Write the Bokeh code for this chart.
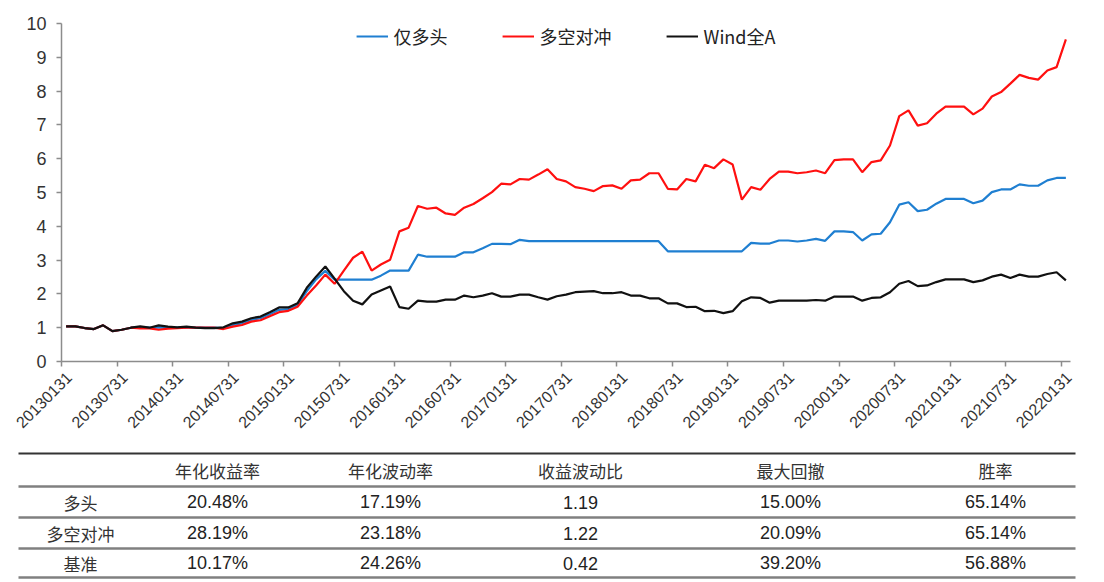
import numpy as np
import pandas as pd
from bokeh.plotting import figure
from bokeh.models import FixedTicker, Legend, LegendItem, Range1d
from bokeh.layouts import column
from bokeh.core.properties import value
from bokeh.embed import file_html
from bokeh.resources import INLINE

# ---------------- data ----------------
dates = pd.date_range("2013-01-31", periods=109, freq="ME").strftime("%Y%m%d").tolist()

long_only = [1.04, 1.04, 0.99, 0.96, 1.07, 0.90, 0.94, 1.00, 1.01, 1.00,
             1.01, 1.00, 1.00, 1.01, 1.00, 1.00, 1.00, 0.99, 1.08, 1.13,
             1.23, 1.28, 1.40, 1.53, 1.55, 1.67, 2.08, 2.43, 2.68, 2.42,
             2.42, 2.42, 2.42, 2.42, 2.54, 2.69, 2.69, 2.69, 3.16, 3.10,
             3.10, 3.10, 3.10, 3.23, 3.23, 3.35, 3.48, 3.48, 3.47, 3.60,
             3.56, 3.56, 3.56, 3.56, 3.56, 3.56, 3.56, 3.56, 3.56, 3.56,
             3.56, 3.56, 3.56, 3.56, 3.56, 3.26, 3.26, 3.26, 3.26, 3.26,
             3.26, 3.26, 3.26, 3.26, 3.51, 3.49, 3.49, 3.58, 3.58, 3.55,
             3.58, 3.63, 3.57, 3.85, 3.85, 3.83, 3.58, 3.76, 3.78, 4.12,
             4.64, 4.71, 4.45, 4.49, 4.67, 4.81, 4.81, 4.81, 4.68, 4.76,
             5.01, 5.09, 5.09, 5.24, 5.20, 5.20, 5.36, 5.43, 5.43]

long_short = [1.04, 1.04, 0.99, 0.96, 1.07, 0.90, 0.94, 1.00, 0.98, 0.98,
              0.94, 0.97, 0.99, 1.00, 1.00, 1.00, 1.00, 0.96, 1.03, 1.08,
              1.18, 1.22, 1.34, 1.46, 1.50, 1.62, 1.95, 2.25, 2.57, 2.30,
              2.69, 3.07, 3.25, 2.69, 2.87, 3.01, 3.85, 3.96, 4.60, 4.52,
              4.55, 4.38, 4.34, 4.55, 4.66, 4.83, 5.01, 5.26, 5.24, 5.40,
              5.38, 5.53, 5.69, 5.40, 5.33, 5.16, 5.11, 5.04, 5.19, 5.21,
              5.11, 5.36, 5.38, 5.57, 5.57, 5.11, 5.09, 5.40, 5.33, 5.82,
              5.72, 5.98, 5.83, 4.79, 5.16, 5.08, 5.40, 5.62, 5.62, 5.57,
              5.60, 5.65, 5.57, 5.96, 5.98, 5.98, 5.60, 5.90, 5.95, 6.39,
              7.26, 7.43, 6.98, 7.05, 7.33, 7.54, 7.54, 7.54, 7.31, 7.48,
              7.84, 7.97, 8.22, 8.48, 8.39, 8.34, 8.61, 8.71, 9.53]

wind_a = [1.04, 1.04, 0.99, 0.96, 1.07, 0.90, 0.94, 1.00, 1.04, 1.00,
          1.07, 1.03, 1.01, 1.03, 1.00, 0.99, 0.99, 1.01, 1.13, 1.18,
          1.28, 1.33, 1.46, 1.60, 1.60, 1.72, 2.18, 2.51, 2.81, 2.45,
          2.08, 1.80, 1.69, 1.98, 2.10, 2.22, 1.61, 1.56, 1.80, 1.77,
          1.77, 1.83, 1.83, 1.95, 1.90, 1.95, 2.02, 1.92, 1.92, 1.98,
          1.98, 1.90, 1.83, 1.93, 1.98, 2.05, 2.07, 2.08, 2.02, 2.02,
          2.05, 1.95, 1.95, 1.87, 1.87, 1.72, 1.72, 1.61, 1.62, 1.49,
          1.50, 1.43, 1.49, 1.78, 1.90, 1.88, 1.74, 1.80, 1.80, 1.80,
          1.80, 1.82, 1.80, 1.92, 1.92, 1.92, 1.80, 1.88, 1.90, 2.05,
          2.30, 2.38, 2.23, 2.25, 2.35, 2.43, 2.43, 2.43, 2.35, 2.40,
          2.51, 2.57, 2.47, 2.57, 2.51, 2.51, 2.59, 2.64, 2.40]

series_names = ["仅多头", "多空对冲", "Wind全A"]
series_colors = ["#1f7fd1", "#ff1010", "#111111"]

y_ticks = [0, 1, 2, 3, 4, 5, 6, 7, 8, 9, 10]

table_header = ["", "年化收益率", "年化波动率", "收益波动比", "最大回撤", "胜率"]
row_names = ["多头", "多空对冲", "基准"]
ann_return = ["20.48%", "28.19%", "10.17%"]
ann_vol = ["17.19%", "23.18%", "24.26%"]
ret_vol_ratio = ["1.19", "1.22", "0.42"]
max_drawdown = ["15.00%", "20.09%", "39.20%"]
win_rate = ["65.14%", "65.14%", "56.88%"]

# ---------------- chart ----------------
n = len(dates)
x = np.arange(n) + 0.5
CH = 437

p = figure(width=1088, height=CH, output_backend="svg", toolbar_location=None,
           x_range=Range1d(0, n), y_range=Range1d(0, 10),
           min_border_left=61, min_border_right=18, min_border_top=23, min_border_bottom=CH - 361)
p.frame_align = False
p.outline_line_color = None
p.grid.visible = False
p.background_fill_color = "white"
p.border_fill_color = "white"

renderers = []
for ys, c in zip([long_only, long_short, wind_a], series_colors):
    r = p.line(x, ys, line_color=c, line_width=2.2)
    renderers.append(r)

# labels sit on major ticks (near each category centre); visible tick marks are the
# category boundaries, drawn as minor ticks
tick_idx = list(range(0, n, 6))
label_pos = [i + 0.8 for i in tick_idx]
p.xaxis.ticker = FixedTicker(ticks=label_pos, minor_ticks=tick_idx)
p.xaxis.major_label_overrides = {pos: dates[i] for pos, i in zip(label_pos, tick_idx)}
p.xaxis.major_label_orientation = np.pi / 4
p.yaxis.ticker = FixedTicker(ticks=y_ticks)

for ax in [p.xaxis[0], p.yaxis[0]]:
    ax.axis_line_color = "#8c8c8c"
    ax.axis_line_width = 1.5
    ax.major_tick_line_color = "#8c8c8c"
    ax.major_tick_line_width = 1.5
    ax.major_tick_out = 5
    ax.major_tick_in = 0
    ax.major_label_text_font = "Liberation Sans"
    ax.major_label_text_color = "#333333"

p.yaxis.minor_tick_line_color = None
p.xaxis.major_tick_line_color = None
p.xaxis.minor_tick_line_color = "#8c8c8c"
p.xaxis.minor_tick_line_width = 1.5
p.xaxis.minor_tick_out = 5
p.xaxis.minor_tick_in = 0
p.xaxis.major_label_text_font_size = "16px"
p.xaxis.major_label_standoff = 8

p.yaxis.major_label_text_font_size = "18px"
p.yaxis.major_label_standoff = 10

legend = Legend(items=[LegendItem(label=nm, renderers=[r]) for nm, r in zip(series_names, renderers)],
                orientation="horizontal", location="top_center")
legend.border_line_color = None
legend.background_fill_alpha = 0
legend.label_text_font = "Noto Sans CJK SC"
legend.label_text_font_size = "18px"
legend.label_text_line_height = 0.9
legend.label_text_color = "#222222"
legend.glyph_width = 32
legend.glyph_height = 14
legend.label_height = 14
legend.label_standoff = 6
legend.spacing = 54
legend.margin = 0
legend.padding = 0
p.add_layout(legend)

# ---------------- table ----------------
TOP = CH                 # page y where the table figure starts
TH = 580 - CH
t = figure(width=1088, height=TH, output_backend="svg", toolbar_location=None,
           x_range=Range1d(0, 1088), y_range=Range1d(TOP + TH, TOP),
           min_border_left=0, min_border_right=0, min_border_top=0, min_border_bottom=0)
t.frame_align = False
t.axis.visible = False
t.grid.visible = False
t.outline_line_color = None

x_left, x_right = 18, 1075
line_ys = [453, 486, 517, 548, 577]
t.segment(x0=[x_left], y0=[line_ys[0]], x1=[x_right], y1=[line_ys[0]], line_color="#333333", line_width=2)
t.segment(x0=[x_left] * 4, y0=line_ys[1:], x1=[x_right] * 4, y1=line_ys[1:], line_color="#808080", line_width=2.5)

col_x = [80, 217, 390, 580, 790, 995]
header_y = 469.5
row_y = [501.5, 532.5, 562.5]

hx, hy, ht = [], [], []
for cx, h in zip(col_x, table_header):
    if h:
        hx.append(cx); hy.append(header_y); ht.append(h)
t.text(x=hx, y=hy, text=ht, text_align="center", text_baseline="middle",
       text_font=value("Noto Sans CJK SC"), text_font_size="17px", text_color="#333333")

t.text(x=[col_x[0]] * 3, y=row_y, text=row_names, text_align="center", text_baseline="middle",
       text_font=value("Noto Sans CJK SC"), text_font_size="17px", text_color="#333333")

vx, vy, vt = [], [], []
for cx, col in zip(col_x[1:], [ann_return, ann_vol, ret_vol_ratio, max_drawdown, win_rate]):
    for ry, v in zip(row_y, col):
        vx.append(cx); vy.append(ry); vt.append(v)
t.text(x=vx, y=vy, text=vt, text_align="center", text_baseline="middle",
       text_font=value("Liberation Sans"), text_font_size="18px", text_color="#222222")

layout = column(p, t, spacing=0)
open("out.html", "w").write(file_html(layout, INLINE))
